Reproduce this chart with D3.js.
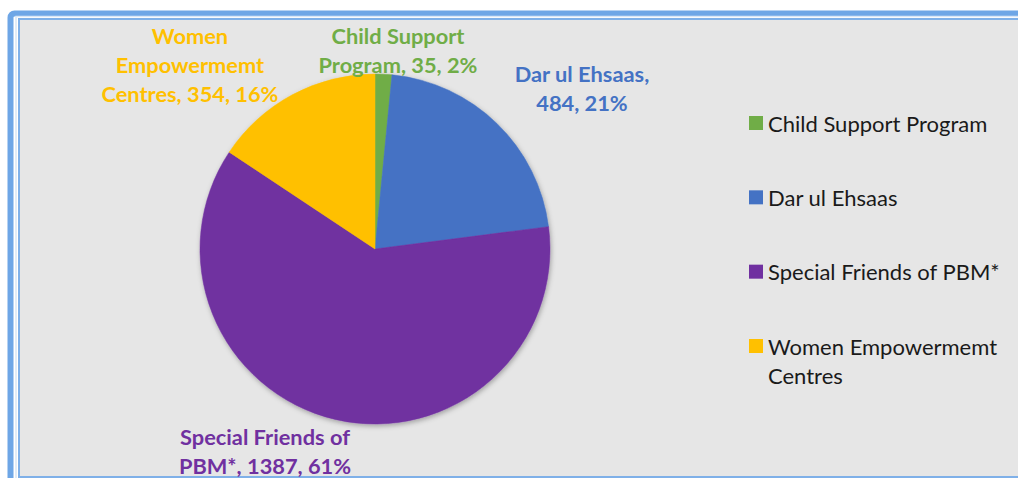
<!DOCTYPE html>
<html><head><meta charset="utf-8">
<script src="https://cdn.jsdelivr.net/npm/d3@7"></script>
<style>html,body{margin:0;padding:0;background:#fff;}svg{display:block;}</style>
</head><body>
<script>
const categories = ["Child Support Program", "Dar ul Ehsaas", "Special Friends of PBM*", "Women Empowermemt Centres"];
const values = [35, 484, 1387, 354];
const percents = ["2%", "21%", "61%", "16%"];
const colors = ["#70ad47", "#4472c4", "#7030a0", "#ffc000"];
const labelLines = [
  ["Child Support", "Program, 35, 2%"],
  ["Dar ul Ehsaas,", "484, 21%"],
  ["Special Friends of", "PBM*, 1387, 61%"],
  ["Women", "Empowermemt", "Centres, 354, 16%"]
];
const legendLines = [["Child Support Program"], ["Dar ul Ehsaas"], ["Special Friends of PBM*"], ["Women Empowermemt", "Centres"]];

const W = 1018, H = 478;
const svg = d3.select("body").append("svg").attr("width", W).attr("height", H);

const defs = svg.append("defs");
const f = defs.append("filter").attr("id", "sh").attr("x", "-20%").attr("y", "-20%").attr("width", "140%").attr("height", "140%");
f.append("feDropShadow").attr("dx", 1).attr("dy", 2).attr("stdDeviation", 2.5).attr("flood-color", "#000").attr("flood-opacity", 0.3);

// frame
svg.append("rect").attr("x", 10.5).attr("y", 13.5).attr("width", 1030).attr("height", 500).attr("rx", 4)
  .attr("fill", "none").attr("stroke", "#6ea6e6").attr("stroke-width", 6);
svg.append("rect").attr("x", 16).attr("y", 16.5).attr("width", 1030).attr("height", 500)
  .attr("fill", "none").attr("stroke", "#d9e6f5").attr("stroke-width", 1.5);
svg.append("rect").attr("x", 19).attr("y", 19).attr("width", 1030).attr("height", 458)
  .attr("fill", "#e6e6e6").attr("stroke", "#7fb0e8").attr("stroke-width", 2);

const cx = 375, cy = 249, R = 175;
const pie = d3.pie().sort(null).value(d => d)(values);
const arc = d3.arc().innerRadius(0).outerRadius(R);
const g = svg.append("g").attr("transform", `translate(${cx},${cy})`);
g.append("g").attr("filter", "url(#sh)").selectAll("path").data(pie).join("path")
  .attr("d", arc).attr("fill", (d, i) => colors[i])
  .attr("stroke", (d, i) => colors[i]).attr("stroke-width", 0.5);

// data labels
const labelPos = [[398, 35], [582, 73], [265, 436], [190, 35]];
const lh = 29;
labelLines.forEach((lines, i) => {
  const t = svg.append("text").attr("text-anchor", "middle")
    .attr("font-family", "Lato, 'Open Sans', sans-serif").attr("font-weight", "bold")
    .attr("font-size", 21.8).attr("fill", colors[i]);
  lines.forEach((ln, j) => {
    t.append("tspan").attr("x", labelPos[i][0]).attr("y", labelPos[i][1] + j * lh)
      .attr("dominant-baseline", "central").text(ln);
  });
});

// legend
const ly = d3.scalePoint().domain(categories).range([123, 346]);
const leg = svg.append("g");
categories.forEach((c, i) => {
  const y = ly(c);
  leg.append("rect").attr("x", 749).attr("y", y - 7).attr("width", 14).attr("height", 14).attr("fill", colors[i]);
  const t = leg.append("text").attr("font-family", "Lato, 'Open Sans', sans-serif")
    .attr("font-size", 22).attr("fill", "#1a1a1a");
  legendLines[i].forEach((ln, j) => {
    t.append("tspan").attr("x", 768).attr("y", y + j * 29).attr("dominant-baseline", "central").text(ln);
  });
});
</script>
</body></html>
